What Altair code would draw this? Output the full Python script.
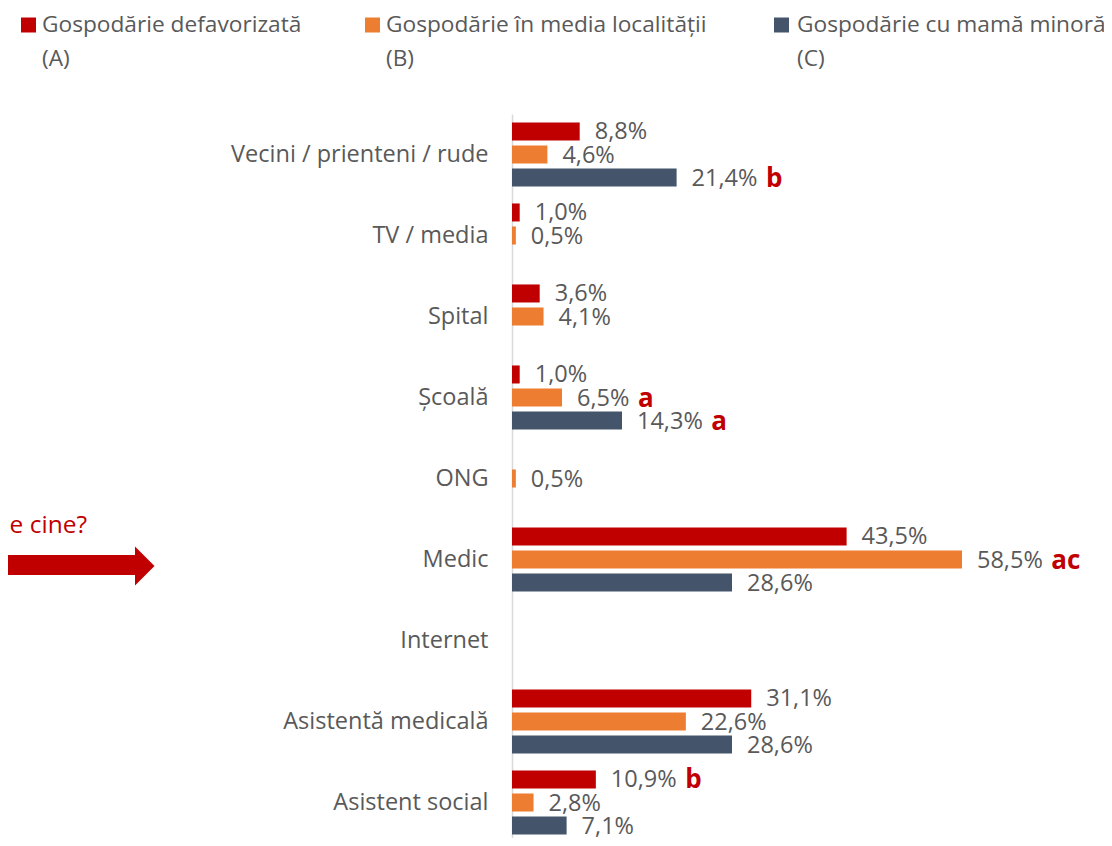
import altair as alt
import pandas as pd

categories = ["Vecini / prienteni / rude", "TV / media", "Spital", "Școală", "ONG",
              "Medic", "Internet", "Asistentă medicală", "Asistent social"]
series_keys = ["A", "B", "C"]
series_names = ["Gospodărie defavorizată", "Gospodărie în media localității", "Gospodărie cu mamă minoră"]
series_tags = ["(A)", "(B)", "(C)"]
colors = ["#C00000", "#ED7D31", "#44546A"]

vals_A = [8.8, 1.0, 3.6, 1.0, None, 43.5, None, 31.1, 10.9]
vals_B = [4.6, 0.5, 4.1, 6.5, 0.5, 58.5, None, 22.6, 2.8]
vals_C = [21.4, None, None, 14.3, None, 28.6, None, 28.6, 7.1]
sig_A = ["", "", "", "", "", "", "", "", "b"]
sig_B = ["", "", "", "a", "", "ac", "", "", ""]
sig_C = ["b", "", "", "a", "", "", "", "", ""]

rows = []
for key, vals, sigs in [("A", vals_A, sig_A), ("B", vals_B, sig_B), ("C", vals_C, sig_C)]:
    for cat, v, s in zip(categories, vals, sigs):
        if v is None:
            continue
        rows.append({"cat": cat, "s": key, "v": v,
                     "label": f"{v:.1f}%".replace(".", ","), "sig": s})
df = pd.DataFrame(rows)

W, H = 580, 724
XMAX = 75.4
PX = W / XMAX
FONT = "Open Sans"
GREY = "#595959"

xscale = alt.Scale(domain=[0, XMAX], nice=False, zero=True)
x_enc = alt.X("v:Q", scale=xscale, axis=None)
y_enc = alt.Y("cat:N", sort=categories,
              scale=alt.Scale(domain=categories, range=[0, 729], paddingInner=0, paddingOuter=0),
              axis=alt.Axis(title=None, ticks=False, grid=False, domainColor="#D9D9D9",
                            domainWidth=1.5, labelFontSize=23.5, labelColor=GREY,
                            labelPadding=24, labelLimit=400, labelFont=FONT))
yo_enc = alt.YOffset("s:N", scale=alt.Scale(domain=series_keys, paddingInner=0.217, paddingOuter=0.367))

base = alt.Chart(df)

bars = base.mark_bar().encode(
    x=x_enc, y=y_enc, yOffset=yo_enc,
    color=alt.Color("s:N", scale=alt.Scale(domain=series_keys, range=colors), legend=None),
)

labels = base.mark_text(align="left", baseline="middle", dx=15, dy=1, fontSize=23.5,
                        color=GREY, font=FONT).encode(
    x=x_enc, y=alt.Y("cat:N", sort=categories), yOffset=alt.YOffset("s:N"), text="label:N")

sigs = base.transform_filter("datum.sig != ''").transform_calculate(
    xs=f"datum.v + (23 + 23.5*(0.572*(length(datum.label)-2) + 1.108))/{PX}"
).mark_text(align="left", baseline="middle", dy=1, fontSize=26, fontWeight="bold",
            color="#C00000", font=FONT).encode(
    x=alt.X("xs:Q", scale=xscale, axis=None), y=alt.Y("cat:N", sort=categories),
    yOffset=alt.YOffset("s:N"), text="sig:N")

layers = [bars, labels, sigs]

# legend (manual)
leg_sq_x = [-483.5, -139.5, 269.5]
leg_tx_x = [-470, -126, 285]
for name, tag, col, sx, tx in zip(series_names, series_tags, colors, leg_sq_x, leg_tx_x):
    ldf = pd.DataFrame({"t": [name + "\n" + tag]})
    layers.append(alt.Chart(ldf).mark_point(shape="square", filled=True, opacity=1, size=225,
                                            color=col).encode(x=alt.value(sx), y=alt.value(-89)))
    layers.append(alt.Chart(ldf).mark_text(align="left", baseline="alphabetic", fontSize=22.7,
                                           color=GREY, font=FONT, lineBreak="\n",
                                           lineHeight=34).encode(
        x=alt.value(tx), y=alt.value(-82), text="t:N"))

# arrow and partial caption at left
cap = pd.DataFrame({"t": ["e cine?"]})
layers.append(alt.Chart(cap).mark_text(align="right", baseline="alphabetic", fontSize=24.5,
                                       color="#C00000", font=FONT).encode(
    x=alt.value(-425), y=alt.value(419), text="t:N"))
layers.append(alt.Chart(cap).mark_rule(color="#C00000", strokeWidth=20).encode(
    x=alt.value(-520), x2=alt.value(-376), y=alt.value(451)))
layers.append(alt.Chart(cap).mark_point(shape="M -0.5 -1 L 0.5 0 L -0.5 1 Z", filled=True,
                                        opacity=1, size=1521, color="#C00000").encode(
    x=alt.value(-367.25), y=alt.value(452)))

chart = alt.layer(*layers).properties(
    width=W, height=H,
    autosize=alt.AutoSizeParams(type="none"),
    padding={"left": 504, "top": 106, "right": 12, "bottom": 0},
).configure(font=FONT, view=alt.ViewConfig(stroke=None))

chart.save("out.html", embed_options={"renderer": "svg", "actions": False})
